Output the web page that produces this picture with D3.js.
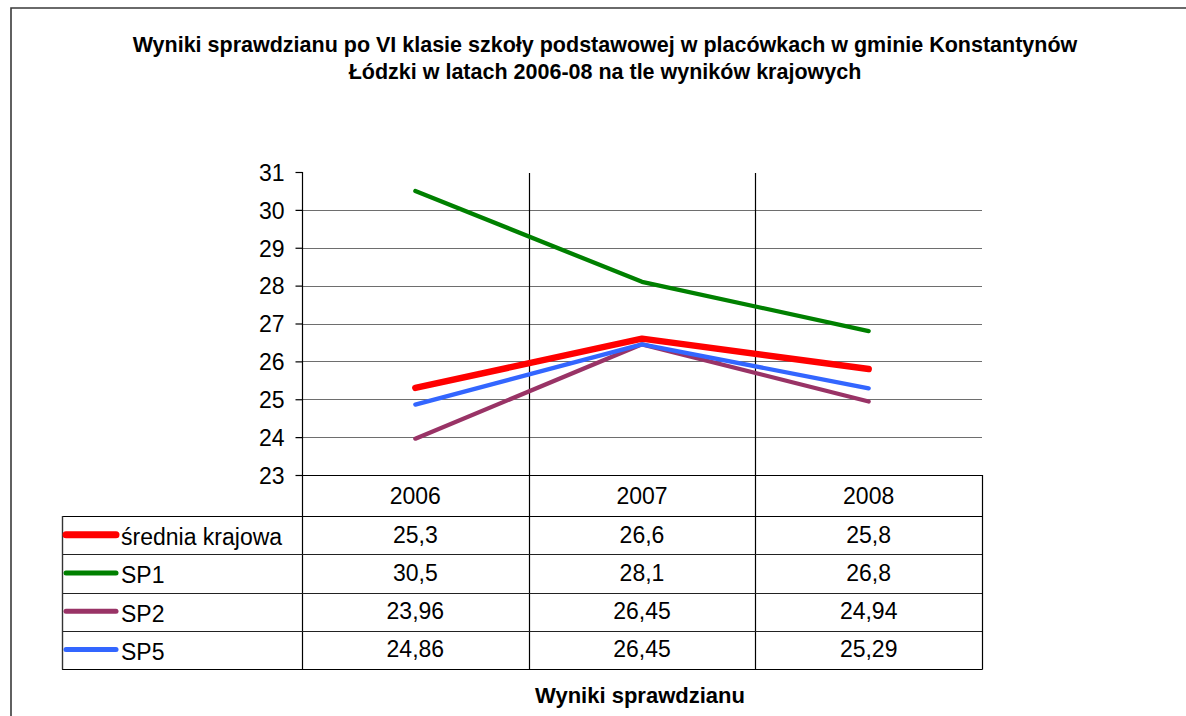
<!DOCTYPE html>
<html>
<head>
<meta charset="utf-8">
<script src="https://cdn.jsdelivr.net/npm/d3@7/dist/d3.min.js"></script>
<style>
  html, body { margin: 0; padding: 0; background: #fff; }
  svg text { font-family: Arial, "Liberation Sans", sans-serif; fill: #000; }
</style>
</head>
<body>
<svg id="chart" width="1186" height="716"></svg>
<script>
// Exam results (sprawdzian, grade VI) for schools in Konstantynów Łódzki vs national average
const years = ["2006", "2007", "2008"];
const seriesNames = ["średnia krajowa", "SP1", "SP2", "SP5"];
const sredniaKrajowa = [25.3, 26.6, 25.8];
const sp1 = [30.5, 28.1, 26.8];
const sp2 = [23.96, 26.45, 24.94];
const sp5 = [24.86, 26.45, 25.29];
const yTicks = [23, 24, 25, 26, 27, 28, 29, 30, 31];

const seriesValues = [sredniaKrajowa, sp1, sp2, sp5];
const seriesColors = ["#ff0000", "#008000", "#993366", "#3366ff"];
const seriesWidths = [6.5, 4.3, 4.3, 4.3];

const svg = d3.select("#chart");
const W = 1186, H = 716;
const cellFont = 23;

// Frame
svg.append("path")
  .attr("d", `M11,${H} L11,8 L${W},8`)
  .attr("fill", "none").attr("stroke", "#3a3a3a").attr("stroke-width", 1.6);

// Title
const title = svg.append("text")
  .attr("text-anchor", "middle")
  .attr("font-weight", "bold")
  .attr("font-size", 21.5);
title.append("tspan").attr("x", 605).attr("y", 52)
  .text("Wyniki sprawdzianu po VI klasie szkoły podstawowej w placówkach w gminie Konstantynów");
title.append("tspan").attr("x", 605).attr("y", 79)
  .text("Łódzki w latach 2006-08 na tle wyników krajowych");

// Scales
const plotLeft = 302, plotRight = 982, plotTop = 172, plotBottom = 475;
const x = d3.scaleBand().domain(years).range([plotLeft, plotRight]);
const y = d3.scaleLinear().domain([23, 31]).range([plotBottom, plotTop]);

// Table geometry
const tableLeft = 62;
const headerBottom = 516;
const rowH = (669 - headerBottom) / seriesNames.length;
const tableBottom = headerBottom + rowH * seriesNames.length;

// Horizontal gridlines
svg.append("g").selectAll("line")
  .data(yTicks.filter(t => t > 23 && t < 31))
  .join("line")
  .attr("x1", plotLeft).attr("x2", plotRight)
  .attr("y1", d => Math.round(y(d)) + 0.5).attr("y2", d => Math.round(y(d)) + 0.5)
  .attr("stroke", "#6e6e6e").attr("stroke-width", 1.2);

// Vertical category dividers through plot and table
svg.append("g").selectAll("line")
  .data(years.slice(1))
  .join("line")
  .attr("x1", d => Math.round(x(d)) + 0.5).attr("x2", d => Math.round(x(d)) + 0.5)
  .attr("y1", plotTop + 1).attr("y2", tableBottom)
  .attr("stroke", "#000").attr("stroke-width", 1.2);

// Y axis
const yAxis = d3.axisLeft(y).tickValues(yTicks).tickSize(7).tickPadding(11)
  .tickFormat(d3.format("d"));
const gy = svg.append("g").attr("transform", `translate(${plotLeft + 0.5},0)`).call(yAxis);
gy.select(".domain").remove();
gy.selectAll(".tick line").attr("stroke", "#000").attr("stroke-width", 1.2);
gy.selectAll(".tick text").attr("font-size", cellFont).attr("font-family", "Arial, 'Liberation Sans', sans-serif")
  .attr("fill", "#000").attr("dy", "0.36em");
svg.append("line")
  .attr("x1", plotLeft + 0.5).attr("x2", plotLeft + 0.5)
  .attr("y1", plotTop).attr("y2", tableBottom)
  .attr("stroke", "#000").attr("stroke-width", 1.2);

// Table lines
const tbl = svg.append("g");
tbl.append("line").attr("x1", plotLeft).attr("x2", plotRight + 0.5)
  .attr("y1", plotBottom + 0.5).attr("y2", plotBottom + 0.5)
  .attr("stroke", "#000").attr("stroke-width", 1.2);
d3.range(seriesNames.length + 1).forEach(i => {
  const yy = Math.round(headerBottom + i * rowH) + 0.5;
  tbl.append("line").attr("x1", tableLeft).attr("x2", plotRight + 0.5)
    .attr("y1", yy).attr("y2", yy).attr("stroke", i === 0 || i === seriesNames.length ? "#000" : "#222")
    .attr("stroke-width", 1.2);
});
tbl.append("line").attr("x1", tableLeft + 0.5).attr("x2", tableLeft + 0.5)
  .attr("y1", headerBottom).attr("y2", tableBottom + 0.5)
  .attr("stroke", "#333").attr("stroke-width", 1.4);
tbl.append("line").attr("x1", plotRight + 0.5).attr("x2", plotRight + 0.5)
  .attr("y1", plotBottom).attr("y2", tableBottom + 0.5)
  .attr("stroke", "#000").attr("stroke-width", 1.2);

// Header years
tbl.selectAll("text.year").data(years).join("text")
  .attr("class", "year")
  .attr("x", d => x(d) + x.bandwidth() / 2)
  .attr("y", (plotBottom + headerBottom) / 2 + 8)
  .attr("text-anchor", "middle").attr("font-size", cellFont)
  .text(d => d);

// Value cells and legend keys
const fmt = v => String(v).replace(".", ",");
seriesNames.forEach((name, i) => {
  const cy = headerBottom + i * rowH + rowH / 2;
  tbl.append("line")
    .attr("x1", 66).attr("x2", 116).attr("y1", cy - 0.5).attr("y2", cy - 0.5)
    .attr("stroke", seriesColors[i]).attr("stroke-width", i === 0 ? 7 : 5)
    .attr("stroke-linecap", "round");
  tbl.append("text").attr("x", 121).attr("y", cy + 10)
    .attr("font-size", cellFont).text(name);
  tbl.selectAll(null).data(seriesValues[i]).join("text")
    .attr("x", (d, j) => x(years[j]) + x.bandwidth() / 2)
    .attr("y", cy + 7.5)
    .attr("text-anchor", "middle").attr("font-size", cellFont)
    .text(d => fmt(d));
});

// Series lines
const line = d3.line()
  .x((d, j) => x(years[j]) + x.bandwidth() / 2)
  .y(d => y(d));
const drawOrder = [1, 2, 3, 0];
drawOrder.forEach(i => {
  svg.append("path")
    .datum(seriesValues[i])
    .attr("d", line)
    .attr("fill", "none")
    .attr("stroke", seriesColors[i])
    .attr("stroke-width", seriesWidths[i])
    .attr("stroke-linecap", "round")
    .attr("stroke-linejoin", "round");
});

// Axis title
svg.append("text")
  .attr("x", 640).attr("y", 703)
  .attr("text-anchor", "middle").attr("font-weight", "bold").attr("font-size", 22)
  .text("Wyniki sprawdzianu");
</script>
</body>
</html>
